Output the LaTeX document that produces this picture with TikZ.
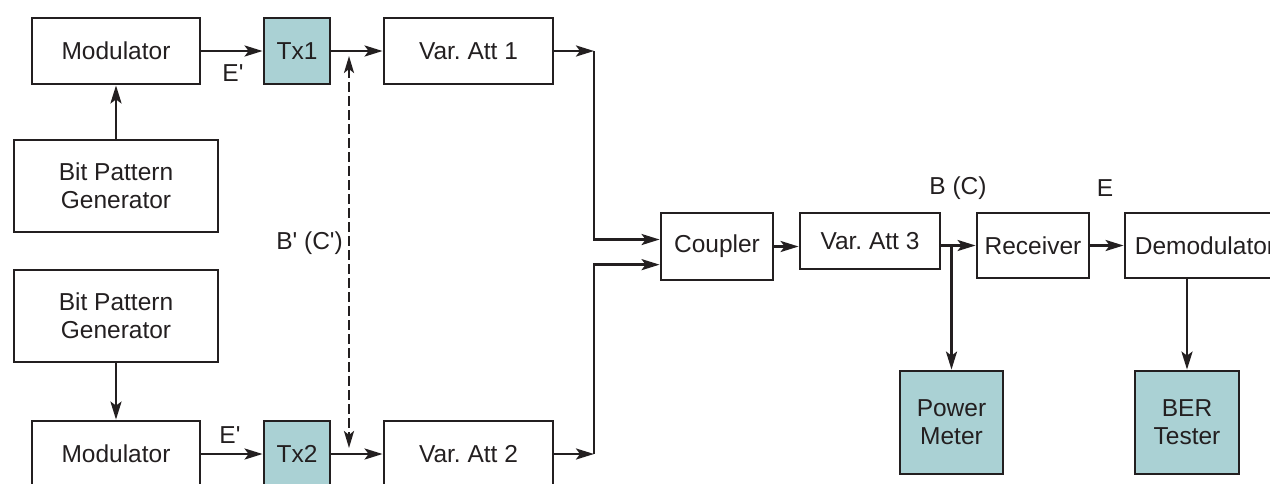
\documentclass[tikz,border=0pt]{standalone}
\usepackage{fontspec}
\setmainfont{Liberation Sans}
\usetikzlibrary{arrows.meta,calc}
\definecolor{txcol}{RGB}{170,209,212}
\definecolor{ink}{RGB}{35,31,32}
\frenchspacing

\begin{document}
\begin{tikzpicture}[x=1pt,y=-1pt,color=ink,
  box/.style={draw, line width=2.8pt, inner sep=0pt, align=center,
    font=\fontsize{24.5}{28}\selectfont},
  txbox/.style={box, fill=txcol},
  arr/.style={-{Stealth[length=18pt,width=11pt,inset=4pt]}, line width=2.7pt},
  lbl/.style={font=\fontsize{24.5}{28}\selectfont, inner sep=0pt}]
\useasboundingbox (0,0) rectangle (1270,483);
% upper transmitter
\node[box, minimum width=168pt, minimum height=66pt] (mod1) at (116,51) {Modulator};
\node[txbox, minimum width=66pt, minimum height=66pt] (tx1) at (297,51) {Tx1};
\node[box, minimum width=204pt, minimum height=92pt] (bpg1) at (116,186) {Bit Pattern\\Generator};
\node[box, minimum width=169pt, minimum height=66pt] (att1) at (468.5,51) {Var. Att 1};
\draw[arr] (bpg1) -- (mod1);
\draw[arr] (mod1) -- (tx1);
\draw[arr] (tx1) -- (att1);
\node[lbl] (e1) at (233,73) {E\textquotesingle};
% lower transmitter
\node[box, minimum width=204pt, minimum height=92pt] (bpg2) at (116,316) {Bit Pattern\\Generator};
\node[box, minimum width=168pt, minimum height=66pt] (mod2) at (116,454) {Modulator};
\node[txbox, minimum width=66pt, minimum height=66pt] (tx2) at (297,454) {Tx2};
\node[box, minimum width=169pt, minimum height=66pt] (att2) at (468.5,454) {Var. Att 2};
\draw[arr] (bpg2) -- (mod2);
\draw[arr] (mod2) -- (tx2);
\draw[arr] (tx2) -- (att2);
\node[lbl] (e2) at (230,435) {E\textquotesingle};
% reference points
\coordinate (d1) at (349,56);
\coordinate (d2) at (349,448);
\draw[{Stealth[length=17pt,width=10pt,inset=4pt]}-{Stealth[length=17pt,width=10pt,inset=4pt]},
  line width=2.4pt, dash pattern=on 10pt off 4pt] (d1) -- (d2);
\node[lbl, anchor=east] (bc1) at (343,243) {B\textquotesingle{} (C\textquotesingle)};
% coupler and receiver side
\node[box, minimum width=112pt, minimum height=67pt] (coupler) at (717,246.5) {Coupler};
\node[box, minimum width=140pt, minimum height=56pt] (att3) at (870,241) {Var. Att 3};
\node[box, minimum width=112pt, minimum height=65pt] (rx) at (1033,245.5) {Receiver};
\node[box, minimum width=160pt, minimum height=65pt] (demod) at (1205,245.5) {Demodulator};
\node[txbox, minimum width=103pt, minimum height=103pt] (pm) at (951.5,422.5) {Power\\Meter};
\node[txbox, minimum width=104pt, minimum height=103pt] (ber) at (1187,422.5) {BER\\Tester};
\coordinate (m1) at (594,51);
\coordinate (m2) at (594,454);
\draw[arr] (att1) -- (m1);
\draw[arr] (m1) |- ($(coupler.north west)!0.4!(coupler.south west)$);
\draw[arr] (att2) -- (m2);
\draw[arr] (m2) |- ($(coupler.north west)!0.76!(coupler.south west)$);
\draw[arr] (coupler.east) -- (coupler.east -| att3.west);
\draw[arr] (att3.east |- rx.west) -- (rx.west);
\draw[arr] (pm.north |- rx.west) -- (pm.north);
\draw[arr] (rx) -- (demod);
\draw[arr] (ber.north |- demod.south) -- (ber.north);
\node[lbl] (bc2) at (958,188) {B (C)};
\node[lbl] (e3) at (1105,188) {E};
\end{tikzpicture}
\end{document}
